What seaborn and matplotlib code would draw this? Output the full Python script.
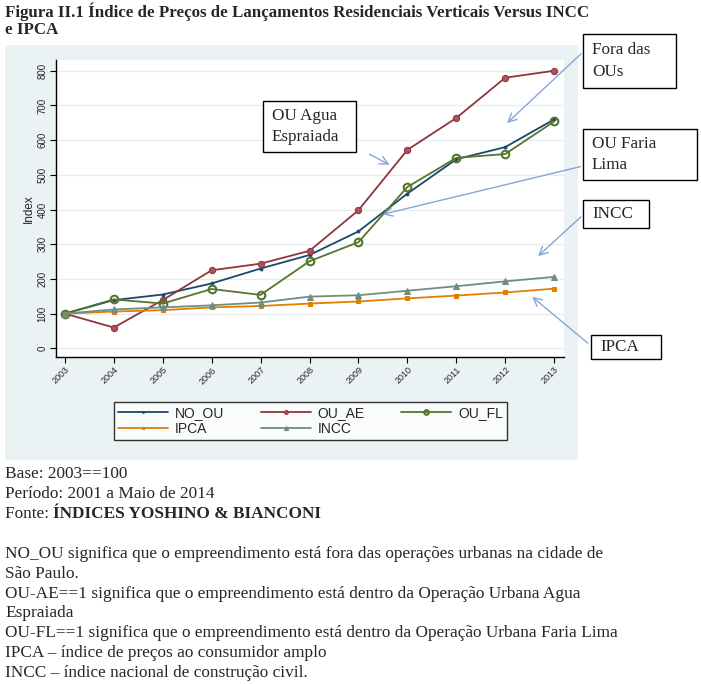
import matplotlib
matplotlib.use("Agg")
import matplotlib.pyplot as plt
import seaborn as sns
import pandas as pd
from matplotlib.patches import Rectangle, FancyArrowPatch

years = [2003, 2004, 2005, 2006, 2007, 2008, 2009, 2010, 2011, 2012, 2013]
no_ou = [100, 139, 155, 187, 230, 269, 337, 446, 545, 580, 660]
ou_ae = [100, 60, 139, 225, 244, 281, 398, 572, 664, 780, 800]
ou_fl = [100, 141, 129, 171, 154, 251, 306, 465, 549, 560, 654]
ipca = [100, 106, 110, 118, 122, 129, 135, 144, 152, 161, 172]
incc = [100, 112, 118, 124, 132, 149, 153, 166, 179, 193, 206]

W, H = 701, 684
def fp(x, y):
    return (x / W, 1 - y / H)

sns.set_style("white")
plt.rcParams['font.family'] = ['Liberation Sans', 'DejaVu Sans']

fig = plt.figure(figsize=(W / 100, H / 100), dpi=100)
fig.patch.set_facecolor("white")
fig.patches.append(Rectangle(fp(5, 460), 573 / W, 415 / H, transform=fig.transFigure,
                             facecolor="#eaf2f3", edgecolor="none", zorder=-10))

ax = fig.add_axes([56 / W, 1 - 357 / H, 508 / W, 297 / H])
ax.set_facecolor("white")

df = pd.DataFrame({"ano": years, "NO_OU": no_ou, "OU_AE": ou_ae, "OU_FL": ou_fl,
                   "IPCA": ipca, "INCC": incc})

estilos = {
    "NO_OU": dict(color="#1a476f", marker="o", markersize=2, markerfacecolor="#1a476f", markeredgecolor="#1a476f"),
    "OU_AE": dict(color="#90353b", marker="o", markersize=4.5, markerfacecolor="#b0505a", markeredgecolor="#90353b"),
    "OU_FL": dict(color="#55752f", marker="o", markersize=5.5, markerfacecolor="none", markeredgecolor="#55752f", markeredgewidth=1.5),
    "IPCA": dict(color="#e37e00", marker="s", markersize=2.5, markerfacecolor="#e37e00", markeredgecolor="#e37e00"),
    "INCC": dict(color="#6e8e84", marker="^", markersize=5, markerfacecolor="#6e8e84", markeredgecolor="#6e8e84"),
}
for nome in ["NO_OU", "OU_AE", "OU_FL", "IPCA", "INCC"]:
    sns.lineplot(data=df, x="ano", y=nome, ax=ax, label=nome, linewidth=1.3, **estilos[nome])

ax.set_xlim(2002.82, 2013.2)
ax.set_ylim(-25, 831)
ax.set_xticks(years)
ax.set_xticklabels([str(a) for a in years], rotation=45, ha="right", va="top",
                   rotation_mode="anchor", fontsize=6.5)
ax.set_yticks(range(0, 801, 100))
ax.set_yticklabels([str(v) for v in range(0, 801, 100)], rotation=90, va="center", fontsize=7)
ax.tick_params(axis="both", direction="out", length=4, width=0.8, color="black", pad=2, left=True, bottom=True)
ax.grid(axis="y", color="#e6ebee", linewidth=0.9)
ax.set_axisbelow(True)
for s in ["top", "right"]:
    ax.spines[s].set_visible(False)
for s in ["left", "bottom"]:
    ax.spines[s].set_color("black")
    ax.spines[s].set_linewidth(1.0)
ax.set_xlabel("")
ax.set_ylabel("Index", fontsize=8.5, labelpad=2)

handles, labels = ax.get_legend_handles_labels()
ax.get_legend().remove()
ordem = [0, 3, 1, 4, 2]
leg = fig.legend([handles[i] for i in ordem], [labels[i] for i in ordem], ncol=3, loc="lower left",
                 bbox_to_anchor=(114 / W, 1 - 440 / H, 393 / W, 47 / H), mode="expand",
                 fontsize=10, frameon=True, fancybox=False, edgecolor="black", markerscale=0.6,
                 handlelength=3.6, handletextpad=0.5, borderaxespad=0, borderpad=0.3,
                 labelspacing=0.15)
leg.get_frame().set_linewidth(1.0)

serif = ["Liberation Serif", "DejaVu Serif"]
fig.text(*fp(5, 12), "Figura II.1 Índice de Preços de Lançamentos Residenciais Verticais Versus INCC",
         family=serif, fontweight="bold", fontsize=12.2, va="center", ha="left")
fig.text(*fp(5, 30), "e IPCA", family=serif, fontweight="bold", fontsize=12.2, va="center", ha="left")

# caixas de texto: (texto, x0, y0, x1, y1)
caixas = [
    ("Fora das\nOUs", 583, 34, 676, 88),
    ("OU Agua\nEspraiada", 263, 101, 356, 152),
    ("OU Faria\nLima", 583, 129, 697, 180),
    ("INCC", 583, 200, 649, 228),
    ("IPCA", 591, 335, 661, 359),
]
for txt, x0, y0, x1, y1 in caixas:
    fig.patches.append(Rectangle(fp(x0, y1), (x1 - x0) / W, (y1 - y0) / H, transform=fig.transFigure,
                                 facecolor="white", edgecolor="black", linewidth=1.0, zorder=5))
    fig.text(*fp(x0 + 9, (y0 + y1) / 2), txt, family=serif, fontsize=12.3, va="center", ha="left",
             linespacing=1.45, zorder=6)

setas = [
    ((583, 52), (505, 125)),
    ((367, 153), (392, 166)),
    ((583, 166), (380, 215)),
    ((583, 215), (536, 258)),
    ((590, 345), (530, 295)),
]
for ini, fim in setas:
    fig.add_artist(FancyArrowPatch(fp(*ini), fp(*fim), transform=fig.transFigure,
                                   arrowstyle="->,head_length=6,head_width=3",
                                   color="#86a6d6", linewidth=1.0))

fs = 12.4
rodape = [
    (474, "Base: 2003==100"),
    (494, "Período: 2001 a Maio de 2014"),
    (554, "NO_OU significa que o empreendimento está fora das operações urbanas na cidade de"),
    (574, "São Paulo."),
    (594, "OU-AE==1 significa que o empreendimento está dentro da Operação Urbana Agua"),
    (613, "Espraiada"),
    (633, "OU-FL==1 significa que o empreendimento está dentro da Operação Urbana Faria Lima"),
    (653, "IPCA – índice de preços ao consumidor amplo"),
    (673, "INCC – índice nacional de construção civil."),
]
for y, txt in rodape:
    fig.text(*fp(5, y), txt, family=serif, fontsize=fs, va="center", ha="left")
t = fig.text(*fp(5, 514), "Fonte: ", family=serif, fontsize=fs, va="center", ha="left")
fig.canvas.draw()
bb = t.get_window_extent()
fig.text(bb.x1 / W, 1 - 514 / H, "ÍNDICES YOSHINO & BIANCONI", family=serif, fontsize=fs,
         fontweight="bold", va="center", ha="left")

fig.savefig("out.png", dpi=100)
